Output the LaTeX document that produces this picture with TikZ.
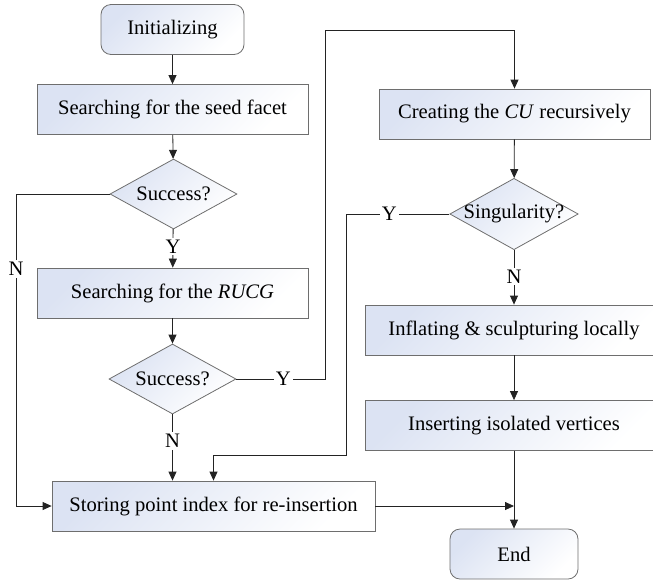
\documentclass[tikz,border=0pt]{standalone}
\usepackage{fontspec}
\setmainfont{Liberation Serif}
\usetikzlibrary{shapes.geometric}
\usetikzlibrary{arrows.meta}
\definecolor{boxgray}{RGB}{110,110,110}
\definecolor{boxblue}{RGB}{220,227,243}
\definecolor{linegray}{RGB}{35,35,35}

\begin{document}
\begin{tikzpicture}[x=0.5pt,y=-0.5pt,
		font=\fontsize{10.3}{12}\selectfont,
		procbox/.style={draw=boxgray, top color=boxblue, bottom color=white, shading angle=45, minimum height=25pt, inner sep=0pt},
		termbox/.style={procbox, rounded corners=5pt},
		decide/.style={diamond, draw=boxgray, top color=boxblue, bottom color=white, shading angle=45, aspect=1.8, minimum width=63.5pt, minimum height=35pt, inner sep=0pt},
		arr/.style={draw=linegray, -{Triangle[length=4.5pt,width=4pt]}},
		lab/.style={fill=white, inner sep=1pt}]
		\useasboundingbox (0,0) rectangle (653,580);
		\node[termbox, minimum width=71.5pt] (init) at (172.5,29.5) {Initializing};
		\node[procbox, minimum width=135.5pt] (seed) at (172.5,109.5) {Searching for the seed facet};
		\node[decide] (suc1) at (173.5,194) {Success?};
		\node[procbox, minimum width=135.5pt] (rucg) at (172.5,293) {Searching for the \textit{RUCG}};
		\node[decide] (suc2) at (172.5,379) {Success?};
		\node[procbox, minimum width=161.5pt] (store) at (213.5,506) {Storing point index for re-insertion};
		\node[procbox, minimum width=135.5pt] (cu) at (514.5,114) {Creating the \textit{CU} recursively};
		\node[decide, inner xsep=-1.5pt] (sing) at (514,214) {Singularity?};
		\node[procbox, minimum width=149pt] (infl) at (514,330) {Inflating \& sculpturing locally};
		\node[procbox, minimum width=149pt] (inser) at (514,425.5) {Inserting isolated vertices};
		\node[termbox, minimum width=64pt] (endn) at (514,554) {End};
		\coordinate (lbend) at (16,194);
		\coordinate (ybend) at (325,379);
		\coordinate (ytop) at (325,30);
		\coordinate (sbend) at (346,214);
		\coordinate (slow) at (346,455);
		\draw[arr] (init) -- (seed);
		\draw[arr] (seed) -- (suc1);
		\draw[arr] (suc1) -- node[lab,pos=0.45] {Y} (rucg);
		\draw[arr] (suc1.west) -- (lbend) -- node[lab,pos=0.24] {N} (lbend |- store.west) -- (store.west);
		\draw[arr] (rucg) -- (suc2);
		\draw[arr] (suc2.south) -- node[lab,pos=0.4] {N} (suc2.south |- store.north);
		\draw[arr] (suc2.east) -- node[lab,pos=0.53] {Y} (ybend) -- (ytop) -- (ytop -| cu.north) -- (cu.north);
		\draw[arr] (cu) -- (sing);
		\draw[arr] (sing) -- node[lab,pos=0.48] {N} (infl);
		\draw[arr] (sing.west) -- node[lab,pos=0.58] {Y} (sbend) -- (slow) -- (slow -| store.north) -- (store.north);
		\draw[arr] (infl) -- (inser);
		\draw[arr] (inser) -- (endn);
		\draw[arr] (store.east) -- (store.east -| inser.south);
	\end{tikzpicture}
\end{document}
